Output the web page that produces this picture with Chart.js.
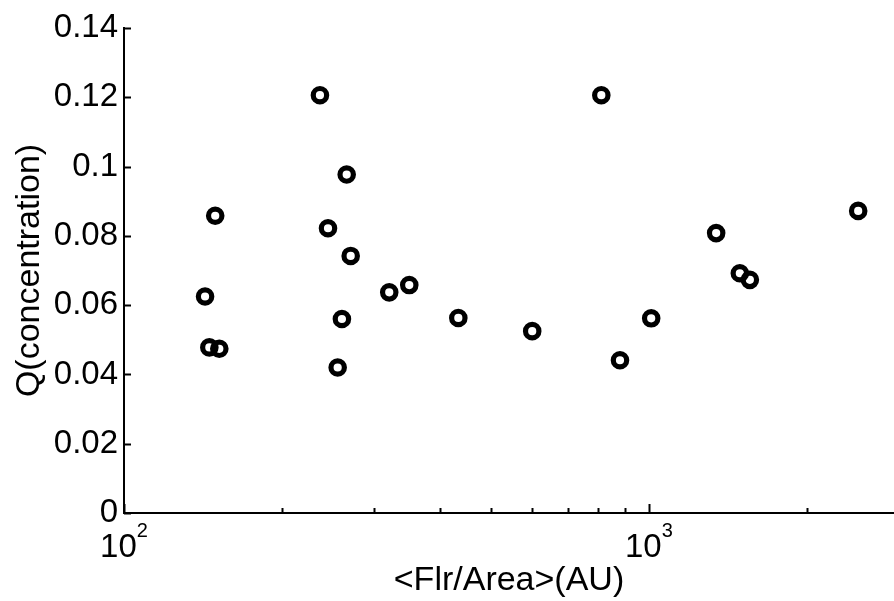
<!DOCTYPE html>
<html>
<head>
<meta charset="utf-8">
<script src="https://cdn.jsdelivr.net/npm/chart.js@4.4.1/dist/chart.umd.min.js"></script>
<style>
  html, body { margin: 0; padding: 0; background: #fff; }
  canvas { display: block; }
</style>
</head>
<body>
<canvas id="scatter" width="894" height="601"></canvas>
<script>
// mean fluorescence per cell area (AU) against concentration score Q
const flrPerArea = [142.7, 145.4, 151.9, 149.2, 236.2, 265.6, 244.7, 270.3, 260.1, 255.3, 320.1,
                    349.5, 433.4, 599.3, 811.5, 880.8, 1010, 1343, 1490, 1557, 2504];
const concentration = [0.0625, 0.0478, 0.0474, 0.0858, 0.1206, 0.0977, 0.0822, 0.0742, 0.0560, 0.0420, 0.0637,
                       0.0658, 0.0563, 0.0525, 0.1206, 0.0441, 0.0562, 0.0808, 0.0692, 0.0673, 0.0872];

const yTicks = [0, 0.02, 0.04, 0.06, 0.08, 0.1, 0.12, 0.14];
const xTicks = [100, 200, 300, 400, 500, 600, 700, 800, 900, 1000, 2000];
const xDecades = [100, 1000];

const FONT = "'Liberation Sans', Arial, Helvetica, sans-serif";

// inward tick marks and 10^n labels, the way MATLAB draws a log axis
const matlabAxes = {
  id: 'matlabAxes',
  afterDraw(chart) {
    const ctx = chart.ctx;
    const xs = chart.scales.x, ys = chart.scales.y;
    const area = chart.chartArea;
    ctx.save();
    ctx.strokeStyle = '#000';
    ctx.lineWidth = 2;
    yTicks.forEach(v => {
      const py = Math.round(ys.getPixelForValue(v)) + 0.5;
      ctx.beginPath();
      ctx.moveTo(area.left, py);
      ctx.lineTo(area.left + 7, py);
      ctx.stroke();
    });
    xTicks.forEach(v => {
      const px = Math.round(xs.getPixelForValue(v)) + 0.5;
      const len = xDecades.includes(v) ? 9 : 5;
      ctx.beginPath();
      ctx.moveTo(px, area.bottom);
      ctx.lineTo(px, area.bottom - len);
      ctx.stroke();
    });

    ctx.fillStyle = '#000';
    ctx.textAlign = 'left';
    ctx.textBaseline = 'alphabetic';
    xDecades.forEach(v => {
      const exp = String(Math.round(Math.log10(v)));
      ctx.font = '33px ' + FONT;
      const wBase = ctx.measureText('10').width;
      ctx.font = '20px ' + FONT;
      const wExp = ctx.measureText(exp).width;
      const start = xs.getPixelForValue(v) - (wBase + wExp) / 2;
      ctx.font = '33px ' + FONT;
      ctx.fillText('10', start, area.bottom + 44);
      ctx.font = '20px ' + FONT;
      ctx.fillText(exp, start + wBase, area.bottom + 24);
    });
    ctx.restore();
  }
};

new Chart(document.getElementById('scatter'), {
  type: 'scatter',
  data: {
    datasets: [{
      data: flrPerArea.map((x, i) => ({ x: x, y: concentration[i] })),
      pointStyle: 'circle',
      pointRadius: 6.7,
      borderWidth: 5.2,
      borderColor: '#000',
      backgroundColor: 'rgba(0,0,0,0)'
    }]
  },
  options: {
    responsive: false,
    animation: false,
    layout: { autoPadding: false, padding: { top: 28, right: 0, bottom: 0, left: 0 } },
    plugins: {
      legend: { display: false },
      tooltip: { enabled: false }
    },
    scales: {
      x: {
        type: 'logarithmic',
        min: 100,
        max: 2930,
        afterBuildTicks: scale => { scale.ticks = xTicks.map(v => ({ value: v })); },
        afterFit: scale => { scale.height = 88; },
        ticks: { display: false },
        grid: { display: false },
        border: { display: true, color: '#000', width: 2 },
        title: {
          display: true,
          text: '<Flr/Area>(AU)',
          color: '#000',
          font: { family: FONT, size: 34 },
          padding: { top: 0, bottom: 0 }
        }
      },
      y: {
        min: 0,
        max: 0.14,
        afterBuildTicks: scale => { scale.ticks = yTicks.map(v => ({ value: v })); },
        afterFit: scale => { scale.width = 124; },
        ticks: {
          color: '#000',
          padding: 6,
          font: { family: FONT, size: 33 },
          callback: v => String(Number(v.toFixed(2)))
        },
        grid: { display: false, drawTicks: false },
        border: { display: true, color: '#000', width: 2 },
        title: {
          display: true,
          text: 'Q(concentration)',
          color: '#000',
          font: { family: FONT, size: 34 },
          padding: { top: 9, bottom: 0 }
        }
      }
    }
  },
  plugins: [matlabAxes]
});
</script>
</body>
</html>
